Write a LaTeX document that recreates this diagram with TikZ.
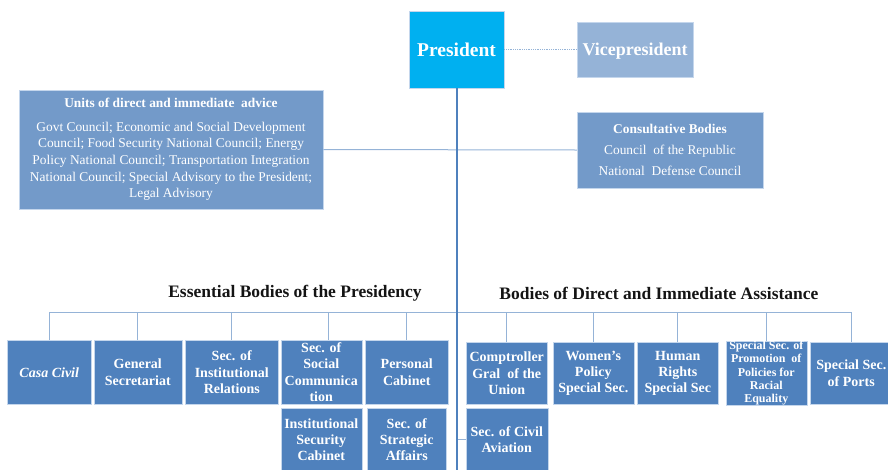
\documentclass[tikz,border=0pt]{standalone}
\usepackage{fontspec}
\setmainfont{Liberation Serif}
\usepackage{tikz}
\usetikzlibrary{positioning}
\definecolor{prescyan}{RGB}{0,176,240}
\definecolor{vicelight}{RGB}{149,179,215}
\definecolor{advblue}{RGB}{115,154,201}
\definecolor{bodyblue}{RGB}{79,129,189}
\definecolor{linelight}{RGB}{149,179,215}
\definecolor{rimlight}{RGB}{196,214,236}
\definecolor{headdark}{RGB}{20,20,20}
\tikzset{
  presbox/.style={rectangle, draw=rimlight, fill=prescyan, text=white,
    align=center, inner sep=0pt, line width=0.5pt,
    font=\fontsize{19.5}{22}\selectfont\bfseries},
  vicebox/.style={rectangle, draw=rimlight, fill=vicelight, text=white,
    align=center, inner sep=0pt, line width=0.5pt,
    font=\fontsize{18}{21}\selectfont\bfseries},
  advbox/.style={rectangle, draw=rimlight, fill=advblue, text=white,
    align=center, inner sep=0pt, line width=0.5pt,
    font=\fontsize{13.4}{16.6}\selectfont},
  bodybox/.style={rectangle, draw=rimlight, fill=bodyblue, text=white,
    align=center, inner sep=0pt, line width=0.5pt, minimum height=64pt,
    font=\fontsize{14}{16.3}\selectfont\bfseries},
  grouplabel/.style={text=headdark, font=\fontsize{17.5}{20}\selectfont\bfseries},
  trunk/.style={line width=2pt, color=bodyblue},
  conn/.style={line width=1pt, color=linelight},
  dotconn/.style={line width=0.8pt, color=linelight, densely dotted}
}
\begin{document}
\begin{tikzpicture}[x=1pt, y=-1pt]
  \useasboundingbox (0,0) rectangle (888,469);
  % top of the chart
  \node[presbox, minimum width=95pt, minimum height=77pt] (pres) at (456.5,49.5) {President};
  \node[vicebox, minimum width=116pt, minimum height=55pt, text depth=1pt] (vice) at (635,49.5) {Vicepresident};
  % advice and consultative bodies
  \node[advbox, minimum width=304pt, minimum height=119pt] (units) at (171,149.5)
    {{\bfseries Units of direct and immediate\ \ advice}\\[7pt]
     Govt Council; Economic and Social Development\\
     Council; Food Security National Council; Energy\\
     Policy National Council; Transportation Integration\\
     National Council; Special Advisory to the President;\\
     Legal Advisory};
  \node[advbox, minimum width=186pt, minimum height=76pt, font=\fontsize{13.4}{21}\selectfont] (consult) at (670,150)
    {{\bfseries Consultative Bodies}\\
     Council\ \ of the Republic\\
     National\ \ Defense Council};
  % group labels
  \node[grouplabel] (esslabel) at (295,293) {Essential Bodies of the Presidency};
  \node[grouplabel] (asslabel) at (659,293) {Bodies of Direct and Immediate Assistance};
  % essential bodies, left row
  \node[bodybox, minimum width=84pt, anchor=north west] (casa) at (7,340) {\itshape Casa Civil};
  \node[bodybox, minimum width=88pt, right=2pt of casa] (gensec) {General\\Secretariat};
  \node[bodybox, minimum width=93pt, right=3pt of gensec] (instrel) {Sec. of\\Institutional\\Relations};
  \node[bodybox, minimum width=81pt, right=2pt of instrel] (soccom) {Sec. of\\Social\\Communica\\tion};
  \node[bodybox, minimum width=83pt, right=3pt of soccom] (perscab) {Personal\\Cabinet};
  \node[bodybox, minimum width=81pt, below=3pt of soccom] (secur) {Institutional\\Security\\Cabinet};
  \node[bodybox, minimum width=79pt, below=3pt of perscab] (strat) {Sec. of\\Strategic\\Affairs};
  % assistance bodies, right row
  \node[bodybox, minimum width=81pt, minimum height=62pt, anchor=north west] (comptr) at (466,342) {Comptroller\\Gral\ \ of the\\Union};
  \node[bodybox, minimum width=81pt, minimum height=62pt, right=5pt of comptr] (women) {Women's\\Policy\\Special Sec.};
  \node[bodybox, minimum width=81pt, minimum height=62pt, right=3pt of women] (human) {Human\\Rights\\Special Sec};
  \node[bodybox, minimum width=81pt, minimum height=62pt, right=7pt of human,
        font=\fontsize{12}{13.3}\selectfont\bfseries] (racial) {Special Sec. of\\Promotion\ \ of\\Policies for\\Racial\\Equality};
  \node[bodybox, minimum width=82pt, minimum height=62pt, right=3pt of racial] (ports) {Special Sec.\\of Ports};
  \node[bodybox, minimum width=82pt, below=3pt of comptr] (aviation) {Sec. of Civil\\Aviation};
  % connectors
  \coordinate (trunkend) at (456.5,480);
  \coordinate (hub) at (456.5,312.5);
  \draw[dotconn] (pres.east) -- (vice.west);
  \draw[conn] (units.east) -- (consult.west);
  \foreach \b in {casa, gensec, instrel, perscab, comptr, women, human, racial, ports}
    \draw[conn] (hub) -| (\b.north);
  \draw[conn] (hub) -| ([xshift=7pt]soccom.north);
  \draw[conn] (trunkend |- aviation.west) -- (aviation.west);
  \draw[trunk] (pres.south) -- (trunkend);
\end{tikzpicture}
\end{document}
